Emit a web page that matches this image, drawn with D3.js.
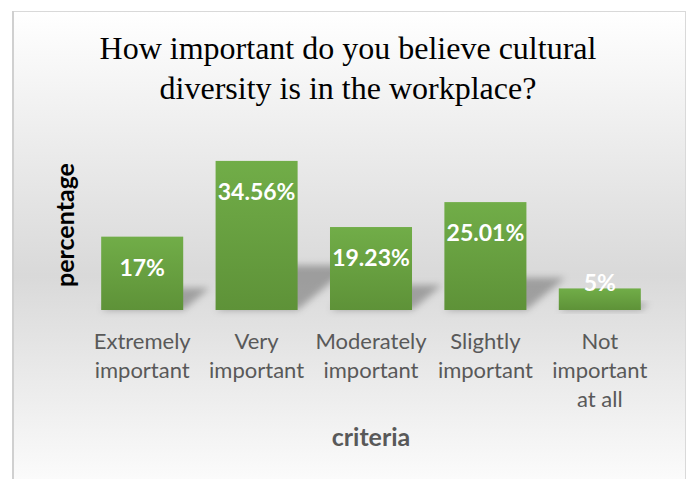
<!DOCTYPE html>
<html>
<head>
<meta charset="utf-8">
<script src="https://cdn.jsdelivr.net/npm/d3@7"></script>
<style>
  html, body { margin: 0; padding: 0; background: #ffffff; }
  svg { display: block; }
</style>
</head>
<body>
<svg id="chart" width="688" height="479"></svg>
<script>
// Survey responses: importance of cultural diversity at work
const categories = ["Extremely important", "Very important", "Moderately important", "Slightly important", "Not important at all"];
const categoryLines = [["Extremely", "important"], ["Very", "important"], ["Moderately", "important"], ["Slightly", "important"], ["Not", "important", "at all"]];
const values = [17, 34.56, 19.23, 25.01, 5];
const valueLabels = ["17%", "34.56%", "19.23%", "25.01%", "5%"];
const titleLines = ["How important do you believe cultural", "diversity is in the workplace?"];
const xTitle = "criteria";
const yTitle = "percentage";

const W = 688, H = 479;
const svg = d3.select("#chart");
const defs = svg.append("defs");

// chart area background: vertical light-grey gradient
const bg = defs.append("linearGradient").attr("id", "bgGrad")
  .attr("x1", 0).attr("y1", 0).attr("x2", 0).attr("y2", 1);
bg.append("stop").attr("offset", "0%").attr("stop-color", "#ffffff");
bg.append("stop").attr("offset", "55%").attr("stop-color", "#d9d9d9");
bg.append("stop").attr("offset", "100%").attr("stop-color", "#fdfdfd");

// bar fill gradient
const bar = defs.append("linearGradient").attr("id", "barGrad")
  .attr("x1", 0).attr("y1", 0).attr("x2", 0).attr("y2", 1);
bar.append("stop").attr("offset", "0%").attr("stop-color", "#71ad48");
bar.append("stop").attr("offset", "100%").attr("stop-color", "#5e9238");

// soft shadow blur
defs.append("filter").attr("id", "shadowBlur")
  .attr("x", "-50%").attr("y", "-50%").attr("width", "200%").attr("height", "200%")
  .append("feGaussianBlur").attr("stdDeviation", 3.5);

// chart area with border
svg.append("rect")
  .attr("x", 12.5).attr("y", 11.5).attr("width", 673).attr("height", 480)
  .attr("fill", "url(#bgGrad)")
  .attr("stroke", "#d9d9d9").attr("stroke-width", 1);
svg.append("line")
  .attr("x1", 13).attr("x2", 13).attr("y1", 11).attr("y2", H)
  .attr("stroke", "#d0d0d0").attr("stroke-width", 2);

// scales
const x = d3.scaleBand().domain(categories).range([85, 657])
  .paddingInner(0.283).paddingOuter(0.1415);
const y = d3.scaleLinear().domain([0, 35]).range([310, 159]);
const base = y(0);

// title
svg.append("text")
  .attr("x", 348).attr("text-anchor", "middle")
  .attr("font-family", "'Liberation Serif', 'Times New Roman', serif")
  .attr("font-size", 32).attr("fill", "#000")
  .selectAll("tspan").data(titleLines).join("tspan")
  .attr("x", 348).attr("y", (d, i) => 59 + i * 40)
  .text(d => d);

// perspective shadows behind bars
svg.append("g").selectAll("path").data(values).join("path")
  .attr("d", (v, i) => {
    const x0 = x(categories[i]), x1 = x0 + x.bandwidth();
    const sh = (base - y(v)) * 0.3;
    const dx = sh * 1.2;
    return `M${x0},${base} L${x1},${base} L${x1 + dx},${base - sh} L${x0 + dx},${base - sh} Z`;
  })
  .attr("fill", "#000").attr("fill-opacity", 0.28)
  .attr("filter", "url(#shadowBlur)");

// bars
svg.append("g").selectAll("rect").data(values).join("rect")
  .attr("x", (v, i) => x(categories[i]))
  .attr("y", v => y(v))
  .attr("width", x.bandwidth())
  .attr("height", v => base - y(v))
  .attr("fill", "url(#barGrad)");

// value labels
svg.append("g").selectAll("text").data(values).join("text")
  .attr("x", (v, i) => x(categories[i]) + x.bandwidth() / 2)
  .attr("y", v => Math.min(y(v) + 31, base - 27))
  .attr("dy", "0.35em")
  .attr("text-anchor", "middle")
  .attr("font-family", "Lato, 'Open Sans', sans-serif")
  .attr("font-weight", "bold").attr("font-size", 23)
  .attr("fill", "#ffffff")
  .text((v, i) => valueLabels[i]);

// category axis
const xAxis = svg.append("g")
  .attr("transform", `translate(0,${base})`)
  .call(d3.axisBottom(x).tickSize(0).tickFormat(""));
xAxis.select(".domain").remove();
xAxis.selectAll(".tick").each(function (d, i) {
  const t = d3.select(this).append("text")
    .attr("text-anchor", "middle")
    .attr("font-family", "Lato, 'Open Sans', sans-serif")
    .attr("font-size", 22).attr("fill", "#595959");
  t.selectAll("tspan").data(categoryLines[i]).join("tspan")
    .attr("x", 0).attr("y", (s, j) => 39 + j * 29)
    .text(s => s);
});

// axis titles
svg.append("text")
  .attr("x", 371).attr("y", 446)
  .attr("text-anchor", "middle")
  .attr("font-family", "Lato, 'Open Sans', sans-serif")
  .attr("font-weight", "bold").attr("font-size", 25)
  .attr("fill", "#595959")
  .text(xTitle);

svg.append("text")
  .attr("transform", "translate(74,225) rotate(-90)")
  .attr("text-anchor", "middle")
  .attr("font-family", "Lato, 'Open Sans', sans-serif")
  .attr("font-weight", "bold").attr("font-size", 25)
  .attr("fill", "#000")
  .text(yTitle);
</script>
</body>
</html>
